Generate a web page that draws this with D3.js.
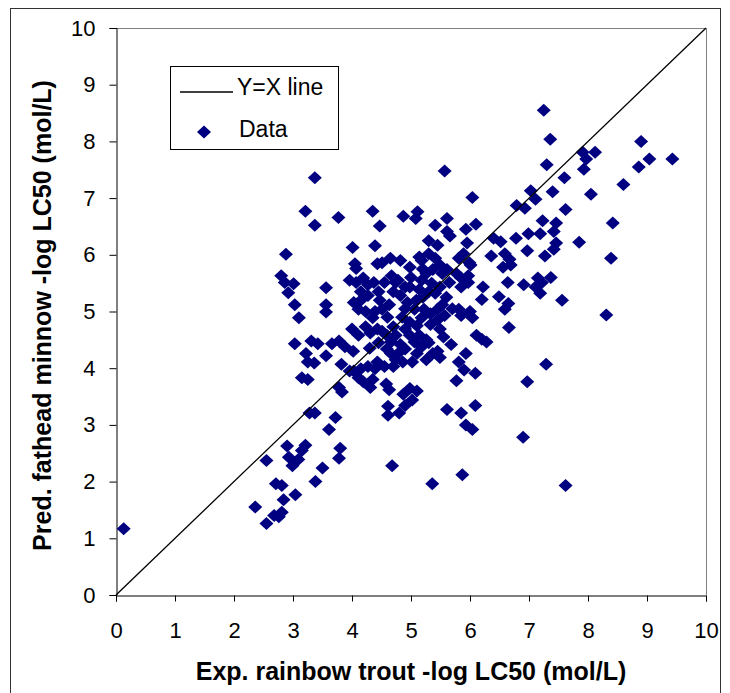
<!DOCTYPE html>
<html>
<head>
<meta charset="utf-8">
<script src="https://cdn.jsdelivr.net/npm/d3@7"></script>
<style>
  body { margin: 0; background: #fff; }
  text { font-family: "Liberation Sans", Arial, sans-serif; fill: #000; }
</style>
</head>
<body>
<div id="chart"></div>
<script>
(function () {
  "use strict";

  // experimental rainbow trout -log LC50 (x) and predicted fathead minnow (y)
  let expTrout = [
    0.13, 2.36, 2.55, 2.55, 2.68, 2.71, 2.76, 2.81, 2.81, 2.84, 2.90, 2.93, 2.99, 3.04, 3.09, 3.15, 3.21, 3.28, 3.37, 3.38, 3.50, 3.61, 3.72, 3.78, 3.80, 3.83, 3.78,
    2.88, 2.80, 2.86, 2.92, 3.01, 3.03, 3.10, 3.03, 3.21, 3.37, 3.37, 3.77, 4.01, 3.56, 3.56, 3.56, 3.31, 3.42, 3.22, 3.25, 3.36, 3.15, 3.25, 3.56, 3.66, 3.78, 3.88, 3.82, 4.02,
    4.35, 4.47, 4.39, 4.43, 4.65, 4.87, 5.11, 5.08, 5.41, 5.61, 5.57, 6.04, 6.10, 5.93, 5.95, 5.61, 5.66, 5.30, 5.45, 5.14,
    7.25, 7.36, 7.30, 7.60, 7.40, 7.62, 7.03, 7.11, 6.79, 6.93, 6.78, 6.99, 6.97, 7.23, 7.19, 7.46, 7.42, 7.46, 7.42, 7.27,
    6.67, 6.59, 6.52, 6.40, 6.36, 6.56, 6.69, 6.64, 6.91, 7.15, 7.22, 7.37, 7.19, 7.11, 6.22, 6.20, 6.49, 6.65, 6.59, 6.66, 7.56,
    6.11, 6.20, 6.28, 5.93, 6.09, 5.81, 5.90, 5.77, 5.68, 6.97, 7.29, 6.90, 7.62, 5.87, 5.36, 4.68, 5.61, 5.85, 6.09, 5.93, 6.04,
    4.61, 4.61, 4.80, 4.90, 5.02, 5.10, 4.98, 4.87, 4.58, 4.63,
    7.85, 7.91, 7.97, 7.93, 8.12, 8.05, 8.60, 8.42, 8.39, 8.31, 8.90, 8.86, 9.04, 9.43,
    5.89, 6.01, 5.97, 5.85, 5.77, 6.04, 5.85, 5.81, 6.00, 5.81, 5.99, 5.85, 5.97,
    4.05, 4.07, 4.82, 4.98, 5.18, 5.30, 5.41, 5.49, 5.53, 5.37, 5.26, 5.18, 5.61, 5.65, 5.49, 5.41, 5.30, 5.14, 4.98,
    3.96, 4.07, 4.19, 4.27, 4.37, 4.03, 4.15, 4.27, 4.11, 4.23, 4.39, 4.51, 4.63, 4.55, 4.67, 4.74, 4.70, 4.82, 4.90, 4.94,
    5.09, 5.06, 5.22, 5.18, 5.33, 5.45, 5.53, 5.57, 5.45, 5.33, 5.49,
    4.00, 4.11, 4.23, 4.31, 4.43, 4.51, 4.59, 4.70, 4.74, 4.66, 4.82, 4.90, 4.98, 4.98, 5.06, 5.14, 5.18, 5.26, 4.90, 4.78,
    4.66, 4.59, 4.74, 4.86, 5.02, 5.10, 5.26, 5.37, 5.49, 5.45, 4.43, 4.55, 4.39, 4.27, 4.15, 4.03, 4.11, 4.19, 4.31, 4.35,
    3.96, 4.70, 4.51, 4.78, 4.47, 4.35,
    5.00, 5.20, 4.85, 5.10, 4.60, 5.35, 5.60, 4.45, 5.70, 5.20, 4.90, 4.15, 4.30, 4.45, 5.55, 5.30
  ];
  let predMinnow = [
    1.17, 1.55, 2.37, 1.26, 1.40, 1.96, 1.38, 1.46, 1.93, 1.68, 2.63, 2.43, 2.28, 1.77, 2.39, 2.55, 2.64, 3.21, 3.21, 2.00, 2.24, 2.92, 3.13, 2.41, 2.59, 3.58, 3.66,
    6.01, 5.63, 5.51, 5.33, 5.49, 5.12, 4.89, 4.43, 6.77, 6.52, 7.36, 6.66, 6.13, 5.42, 5.12, 4.99, 4.48, 4.43, 4.26, 4.11, 4.09, 3.83, 3.80, 4.22, 4.43, 4.48, 4.38, 4.07, 4.30,
    6.77, 6.51, 6.16, 5.84, 5.94, 6.68, 6.76, 6.64, 6.52, 6.64, 7.48, 7.01, 6.54, 6.45, 6.21, 6.41, 6.33, 6.25, 6.17, 5.96,
    8.55, 8.04, 7.59, 7.36, 7.11, 6.80, 7.13, 6.98, 6.87, 6.82, 6.29, 6.37, 6.07, 6.60, 6.37, 6.56, 6.41, 6.21, 6.10, 5.98,
    5.92, 6.02, 6.23, 6.29, 5.98, 5.78, 5.82, 5.51, 5.47, 5.59, 5.51, 5.60, 5.32, 5.43, 5.43, 5.21, 5.26, 5.14, 5.04, 4.72, 5.20,
    4.58, 4.51, 4.46, 4.26, 3.91, 4.11, 3.97, 3.78, 4.42, 3.76, 4.07, 2.78, 1.93, 2.12, 1.96, 2.28, 3.27, 3.21, 3.34, 3.00, 2.92,
    3.33, 3.17, 3.21, 3.34, 3.44, 3.60, 3.64, 3.54, 3.72, 3.62,
    6.22, 7.81, 7.69, 7.51, 7.81, 7.07, 7.24, 6.56, 5.94, 4.94, 8.00, 7.55, 7.69, 7.69,
    6.02, 5.82, 5.51, 5.43, 5.67, 4.89, 4.93, 5.04, 5.00, 5.94, 5.86, 5.59, 5.63,
    5.84, 5.76, 5.90, 5.78, 5.90, 6.02, 5.94, 5.82, 5.67, 5.74, 5.67, 5.55, 5.74, 5.51, 5.43, 5.32, 5.35, 5.39, 5.43,
    5.55, 5.51, 5.59, 5.47, 5.51, 5.16, 5.20, 5.28, 5.04, 5.00, 5.00, 5.04, 5.12, 5.51, 5.63, 5.51, 5.35, 5.28, 5.43, 5.16,
    5.20, 5.04, 5.04, 4.89, 4.96, 5.04, 5.12, 4.93, 4.85, 4.77, 4.69,
    4.69, 4.58, 4.73, 4.62, 4.69, 4.65, 4.58, 4.73, 4.58, 4.46, 4.42, 4.69, 4.81, 4.58, 4.46, 4.58, 4.38, 4.50, 4.34, 4.26,
    4.26, 4.34, 4.15, 4.11, 4.11, 4.26, 4.15, 4.26, 4.19, 4.30, 4.11, 4.03, 3.99, 4.03, 3.99, 3.95, 3.83, 3.76, 3.66, 3.80,
    3.95, 4.03, 5.86, 5.55, 5.20, 4.89,
    5.60, 5.75, 4.90, 4.75, 4.90, 5.50, 5.25, 5.35, 5.05, 5.25, 5.05, 5.35, 4.35, 4.45, 4.55, 4.45
  ];

  let ticks = [0, 1, 2, 3, 4, 5, 6, 7, 8, 9, 10];
  let xTitle = 'Exp. rainbow trout -log LC50 (mol/L)';
  let yTitle = 'Pred. fathead minnow -log LC50 (mol/L)';
  let legendLabels = ['Y=X line', 'Data'];

  let width = 730, height = 693;
  let left = 116, right = 706, top = 28, bottom = 595;
  let navy = '#000080';
  let diamond = 'M0,-6.5L7,0L0,6.5L-7,0Z';

  let svg = d3.select('#chart').append('svg')
    .attr('width', width)
    .attr('height', height);

  // outer chart frame
  svg.append('rect')
    .attr('x', 10.5).attr('y', 8.5)
    .attr('width', 710).attr('height', 700)
    .attr('fill', 'none')
    .attr('stroke', '#333');

  let x = d3.scaleLinear().domain([0, 10]).range([left, right]);
  let y = d3.scaleLinear().domain([0, 10]).range([bottom, top]);

  // plot area border (top + right are gray)
  svg.append('path')
    .attr('d', `M${left},${top + 0.5}H${right + 0.5}V${bottom}`)
    .attr('fill', 'none')
    .attr('stroke', '#808080');

  let xAxis = svg.append('g')
    .attr('transform', `translate(0,${bottom + 0.5})`)
    .call(d3.axisBottom(x).tickValues(ticks).tickSize(6).tickPadding(21));
  let yAxis = svg.append('g')
    .attr('transform', `translate(${left + 0.5},0)`)
    .call(d3.axisLeft(y).tickValues(ticks).tickSize(7).tickPadding(14));

  [xAxis, yAxis].forEach(function(ax){
    ax.select('.domain').attr('stroke', '#000');
    ax.selectAll('.tick line').attr('stroke', '#000');
    ax.selectAll('.tick text')
      .attr('font-family', '"Liberation Sans", Arial, sans-serif')
      .attr('font-size', 22)
      .attr('fill', '#000');
  });

  // points
  let pts = expTrout.map(function(v, i){ return [v, predMinnow[i]]; });
  svg.append('g').selectAll('path')
    .data(pts)
    .enter().append('path')
      .attr('d', diamond)
      .attr('transform', function(d){ return `translate(${x(d[0])},${y(d[1])})`; })
      .attr('fill', navy);

  // y = x line drawn over the markers
  svg.append('line')
    .attr('x1', x(0)).attr('y1', y(0))
    .attr('x2', x(10)).attr('y2', y(10))
    .attr('stroke', '#000')
    .attr('stroke-width', 1.3);

  // legend
  let lg = svg.append('g');
  lg.append('rect')
    .attr('x', 170.5).attr('y', 66.5)
    .attr('width', 168).attr('height', 83)
    .attr('fill', '#fff')
    .attr('stroke', '#000');
  lg.append('line')
    .attr('x1', 180).attr('x2', 233)
    .attr('y1', 92).attr('y2', 92)
    .attr('stroke', '#000')
    .attr('stroke-width', 1.3);
  lg.append('text')
    .attr('x', 237).attr('y', 95)
    .attr('font-size', 23)
    .text(legendLabels[0]);
  lg.append('path')
    .attr('d', diamond)
    .attr('transform', 'translate(204,132)')
    .attr('fill', navy);
  lg.append('text')
    .attr('x', 239).attr('y', 137)
    .attr('font-size', 23)
    .text(legendLabels[1]);

  // axis titles
  svg.append('text')
    .attr('x', (left + right) / 2).attr('y', 680)
    .attr('text-anchor', 'middle')
    .attr('font-weight', 'bold')
    .attr('font-size', 25)
    .text(xTitle);
  svg.append('text')
    .attr('transform', `translate(51,${(top + bottom) / 2 + 4}) rotate(-90)`)
    .attr('text-anchor', 'middle')
    .attr('font-weight', 'bold')
    .attr('font-size', 25)
    .text(yTitle);

}());
</script>
</body>
</html>
